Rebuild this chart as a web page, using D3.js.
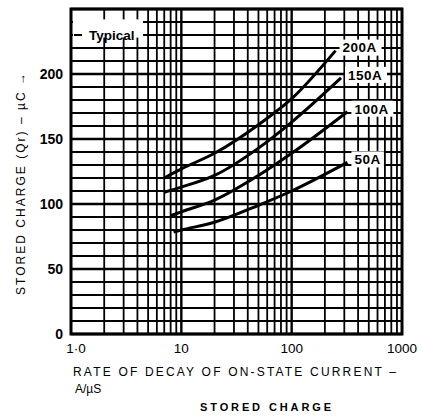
<!DOCTYPE html>
<meta charset="utf-8">
<head>
<style>
body { margin: 0; background: #fff; }
svg { font-family: "Liberation Sans", Arial, Helvetica, sans-serif; }
.grid line { stroke: #000; }
.curve { fill: none; stroke: #000; stroke-width: 3; stroke-linejoin: round; }
</style>
</head>
<body>
<div id="chart"></div>
<script src="https://d3js.org/d3.v7.min.js"></script>
<script>

// values (rate of decay A/us, stored charge uC)
var series = ["200A", "150A", "100A", "50A"];
var rate200 = [7, 10, 20, 50, 100, 250];
var q200    = [120, 127, 139, 161, 181, 218];
var rate150 = [7, 10, 20, 50, 100, 280];
var q150    = [109, 113, 122, 143, 163, 197];
var rate100 = [8, 10, 20, 50, 100, 320];
var q100    = [91, 94, 103, 122, 139, 171];
var rate50  = [8.5, 10, 20, 50, 100, 320];
var q50     = [78.5, 80, 86, 99, 110, 132];

var xTicks = [1, 10, 100, 1000];
var xTickLabels = ["1·0", "10", "100", "1000"];
var yTicks = [0, 50, 100, 150, 200];

// set the dimensions and margins of the graph
var margin = {top: 9, right: 20, bottom: 82, left: 71},
    width = 422 - margin.left - margin.right,
    height = 416 - margin.top - margin.bottom;

var svgRoot = d3.select("#chart")
  .append("svg")
    .attr("width", 422)
    .attr("height", 416);
var svg = svgRoot.append("g")
    .attr("transform", "translate(" + margin.left + "," + margin.top + ")");

var x = d3.scaleLog().domain([1, 1000]).range([0, width]);
var y = d3.scaleLinear().domain([0, 250]).range([height, 0]);

// grid lines: every 1..9 per decade, every 10 uC
var vLines = [];
[1, 10, 100].forEach(function(dec) {
  for (var i = 1; i < 10; i++) vLines.push(dec * i);
});
var hLines = d3.range(0, 251, 10);

var grid = svg.append("g").attr("class", "grid");
grid.selectAll(".v")
  .data(vLines)
  .enter().append("line")
    .attr("x1", function(d) { return x(d); })
    .attr("x2", function(d) { return x(d); })
    .attr("y1", 0)
    .attr("y2", height)
    .style("stroke-width", function(d) { return (d == 10 || d == 100) ? 2.4 : 1.8; });
grid.selectAll(".h")
  .data(hLines)
  .enter().append("line")
    .attr("x1", 0)
    .attr("x2", width)
    .attr("y1", function(d) { return y(d); })
    .attr("y2", function(d) { return y(d); })
    .style("stroke-width", function(d) { return d % 50 == 0 ? 2.6 : 1.8; });

// frame
svg.append("rect")
  .attr("width", width)
  .attr("height", height)
  .style("fill", "none")
  .style("stroke", "#000")
  .style("stroke-width", 3);

// "Typical" box
svg.append("rect")
  .attr("x", 2).attr("y", y(242))
  .attr("width", 70).attr("height", y(228) - y(242))
  .style("fill", "#fff");
svg.append("line")
  .attr("x1", 3).attr("x2", 11)
  .attr("y1", y(230)).attr("y2", y(230))
  .style("stroke", "#000").style("stroke-width", 2);
svg.append("text")
  .attr("x", 18).attr("y", y(230))
  .attr("dy", "0.35em")
  .style("font-size", "13.5px")
  .style("font-weight", "bold")
  .text("Typical");

// curves
var allRates = [rate200, rate150, rate100, rate50];
var allQ = [q200, q150, q100, q50];
var curves = series.map(function(name, i) {
  return { name: name, pts: allRates[i].map(function(r, j) { return [r, allQ[i][j]]; }) };
});

var line = d3.line()
  .x(function(d) { return x(d[0]); })
  .y(function(d) { return y(d[1]); })
  .curve(d3.curveMonotoneX);

svg.selectAll(".curve")
  .data(curves)
  .enter().append("path")
    .attr("class", "curve")
    .attr("d", function(d) { return line(d.pts); });

// labels at the curve ends
var labels = svg.selectAll(".lbl")
  .data(curves)
  .enter().append("g")
    .attr("transform", function(d) {
      var last = d.pts[d.pts.length - 1];
      return "translate(" + (x(last[0]) + 7) + "," + (y(last[1]) - 3) + ")";
    });
labels.append("rect")
  .attr("x", -3).attr("y", -8)
  .attr("width", function(d) { return d.name.length * 9.5 + 4; })
  .attr("height", 16)
  .style("fill", "#fff");
labels.append("text")
  .attr("dy", "0.36em")
  .style("font-size", "13.5px")
  .style("font-weight", "bold")
  .style("letter-spacing", "0.5px")
  .text(function(d) { return d.name; });

// y tick labels
svg.selectAll(".ytick")
  .data(yTicks)
  .enter().append("text")
    .attr("x", -8)
    .attr("y", function(d) { return y(d); })
    .attr("dy", "0.36em")
    .style("text-anchor", "end")
    .style("font-size", "14px")
    .style("font-weight", "bold")
    .text(function(d) { return d; });

// x tick labels
svg.selectAll(".xtick")
  .data(xTicks)
  .enter().append("text")
    .attr("x", function(d, i) { return x(d) + (i == 0 ? 5 : 0); })
    .attr("y", height + 19)
    .style("text-anchor", "middle")
    .style("font-size", "13.5px")
    .text(function(d, i) { return xTickLabels[i]; });

// axis titles
svg.append("text")
  .attr("x", 2)
  .attr("y", height + 42)
  .attr("textLength", 323)
  .attr("lengthAdjust", "spacing")
  .style("font-size", "12px")
  .text("RATE OF DECAY OF ON-STATE CURRENT –");
svg.append("text")
  .attr("x", 4)
  .attr("y", height + 59)
  .style("font-size", "12px")
  .text("A/µS");
svg.append("text")
  .attr("transform", "rotate(-90)")
  .attr("x", -(295 - margin.top))
  .attr("y", -margin.left + 25)
  .attr("textLength", 222)
  .attr("lengthAdjust", "spacing")
  .style("font-size", "12px")
  .text("STORED CHARGE (Qr) – µC →");

svgRoot.append("text")
  .attr("x", 200)
  .attr("y", 411)
  .attr("textLength", 131)
  .attr("lengthAdjust", "spacing")
  .style("font-size", "11px")
  .style("font-weight", "900")
  .text("STORED CHARGE");

</script>
</body>
